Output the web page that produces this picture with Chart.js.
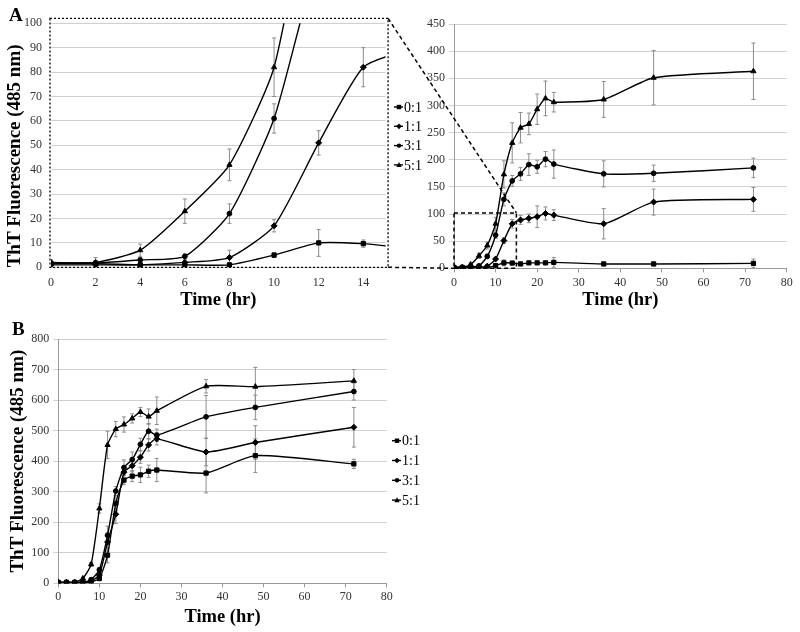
<!DOCTYPE html>
<html>
<head>
<meta charset="utf-8">
<script src="https://cdn.jsdelivr.net/npm/chart.js@4.4.1/dist/chart.umd.min.js"></script>
<style>
  body { margin: 0; background: #fff; }
  #wrap { position: relative; width: 800px; height: 632px; overflow: hidden; }
  canvas { position: absolute; }
  .tag { position: absolute; font: bold 19px 'Liberation Serif', serif; color: #000; }
</style>
</head>
<body>
<div id="wrap">
  <canvas id="zoomChart" width="430" height="320" style="left:0;top:0"></canvas>
  <canvas id="fullChart" width="800" height="320" style="left:0;top:0"></canvas>
  <canvas id="chartB" width="430" height="312" style="left:0;top:320px"></canvas>
  <div class="tag" style="left:9px;top:4px">A</div>
  <div class="tag" style="left:12px;top:318px">B</div>
</div>
<script>
const hours = [0, 2, 4, 6, 8, 10, 12, 14, 16, 18, 20, 22, 24, 36, 48, 72];
const ratios = ['0:1', '1:1', '3:1', '5:1'];
const markers = ['rect', 'rectRot', 'circle', 'triangle'];

// panel A values
const a01 = [1.5, 1.5, 1, 1, 1, 5, 10, 9.7, 8, 10, 10, 10, 11, 8, 8, 9];
const a11 = [1, 1, 1, 2, 4, 17, 51, 82, 89, 92, 95, 101, 98, 82, 122, 127];
const a31 = [1.8, 1.8, 3, 4.5, 22, 61, 127, 161, 174, 191, 187, 201, 192, 174, 175, 185];
const a51 = [2, 2, 7, 23, 42, 82, 173, 231, 259, 266, 293, 313, 306, 311, 351, 363];
const a01Err = [1, 1, 0.5, 0.5, 0.5, 1, 5.5, 1.5, 2, 2, 2, 2, 9, 3, 3, 8];
const a11Err = [0.5, 1, 1, 1, 3, 2.5, 5, 8, 8, 8, 20, 12, 10, 28, 24, 22];
const a31Err = [1, 1, 1, 1, 4, 6, 12, 10, 12, 20, 12, 14, 26, 24, 15, 18];
const a51Err = [1, 2, 2.5, 5, 6.5, 12, 25, 37, 28, 20, 28, 32, 18, 33, 50, 52];

// panel B values
const b01 = [3, 3, 3, 3, 5, 16, 92, 262, 338, 351, 355, 367, 371, 361, 418, 391];
const b11 = [3, 3, 3, 3, 8, 27, 135, 226, 364, 385, 413, 453, 473, 430, 461, 511];
const b31 = [3, 3, 3, 3, 12, 44, 157, 302, 379, 405, 455, 498, 485, 545, 576, 628];
const b51 = [3, 3, 3, 16, 62, 245, 453, 505, 520, 540, 561, 546, 565, 645, 644, 663];
const b01Err = [2, 2, 2, 2, 4, 8, 25, 25, 15, 18, 25, 20, 38, 65, 55, 15];
const b11Err = [2, 2, 2, 2, 4, 8, 30, 30, 20, 20, 20, 20, 20, 45, 55, 65];
const b31Err = [2, 2, 2, 2, 4, 8, 30, 15, 25, 25, 20, 25, 20, 70, 40, 28];
const b51Err = [2, 2, 2, 4, 6, 15, 45, 25, 25, 15, 15, 25, 45, 22, 63, 37];

// ticks
const zoomXTicks = [0, 2, 4, 6, 8, 10, 12, 14];
const zoomYTicks = [0, 10, 20, 30, 40, 50, 60, 70, 80, 90, 100];
const fullXTicks = [0, 10, 20, 30, 40, 50, 60, 70, 80];
const fullYTicks = [0, 50, 100, 150, 200, 250, 300, 350, 400, 450];
const bYTicks = [0, 100, 200, 300, 400, 500, 600, 700, 800];

// region of panel A that the left plot enlarges
const zoomRegion = { xMax: 15, yMax: 102 };

Chart.defaults.font.family = "'Liberation Serif', 'Times New Roman', serif";
Chart.defaults.font.size = 12;
Chart.defaults.color = '#333';

function drawMarker(ctx, style, cx, cy, r) {
    ctx.beginPath();
    if (style === 'rect') {
        ctx.rect(cx - r, cy - r, 2 * r, 2 * r);
    } else if (style === 'rectRot') {
        ctx.moveTo(cx, cy - r * 1.3);
        ctx.lineTo(cx + r * 1.3, cy);
        ctx.lineTo(cx, cy + r * 1.3);
        ctx.lineTo(cx - r * 1.3, cy);
        ctx.closePath();
    } else if (style === 'circle') {
        ctx.arc(cx, cy, r, 0, Math.PI * 2);
    } else {
        ctx.moveTo(cx, cy - r * 1.3);
        ctx.lineTo(cx + r * 1.2, cy + r);
        ctx.lineTo(cx - r * 1.2, cy + r);
        ctx.closePath();
    }
    ctx.fill();
}

const errorBars = {
    id: 'errorBars',
    beforeDatasetsDraw(chart) {
        const { ctx, chartArea, scales: { x, y } } = chart;
        ctx.save();
        ctx.beginPath();
        ctx.rect(chartArea.left, chartArea.top, chartArea.width, chartArea.height);
        ctx.clip();
        ctx.strokeStyle = '#8c8c8c';
        ctx.lineWidth = 1;
        chart.data.datasets.forEach(ds => {
            ds.data.forEach((pt, j) => {
                const e = ds.errors[j];
                const px = x.getPixelForValue(pt.x);
                const top = y.getPixelForValue(pt.y + e);
                const bot = y.getPixelForValue(pt.y - e);
                ctx.beginPath();
                ctx.moveTo(px, top); ctx.lineTo(px, bot);
                ctx.moveTo(px - 2, top); ctx.lineTo(px + 2, top);
                ctx.moveTo(px - 2, bot); ctx.lineTo(px + 2, bot);
                ctx.stroke();
            });
        });
        ctx.restore();
    }
};

const sideLegend = {
    id: 'sideLegend',
    afterDraw(chart, args, opts) {
        if (opts.x === undefined) return;
        const ctx = chart.ctx;
        ctx.save();
        ctx.font = "14px 'Liberation Serif', serif";
        ctx.textBaseline = 'middle';
        chart.data.datasets.forEach((ds, i) => {
            const y = opts.y + i * opts.gap;
            ctx.strokeStyle = '#000';
            ctx.fillStyle = '#000';
            ctx.lineWidth = 1.4;
            ctx.beginPath();
            ctx.moveTo(opts.x, y);
            ctx.lineTo(opts.x + 9, y);
            ctx.stroke();
            drawMarker(ctx, ds.pointStyle, opts.x + 5, y, 2.2);
            ctx.fillText(ds.label, opts.x + 10, y + 1);
        });
        ctx.restore();
    }
};

const zoomFrame = {
    id: 'zoomFrame',
    afterDraw(chart) {
        const { ctx, chartArea, scales: { y } } = chart;
        const top = y.getPixelForValue(zoomRegion.yMax);
        ctx.save();
        ctx.strokeStyle = '#000';
        ctx.lineWidth = 1.3;
        ctx.setLineDash([2, 2]);
        ctx.strokeRect(chartArea.left - 1, top, chartArea.width + 3.5, chartArea.bottom - top);
        ctx.restore();
    }
};

function makeSets(series, errs) {
    return series.map((values, i) => ({
        label: ratios[i],
        data: values.map((v, j) => ({ x: hours[j], y: v })),
        errors: errs[i],
        borderColor: '#000',
        backgroundColor: '#000',
        borderWidth: 1.4,
        pointStyle: markers[i],
        pointRadius: [3, 3, 2.4, 3][i],
        pointBorderWidth: 1,
        tension: 0.2
    }));
}

function fixedTicks(list) {
    return s => { s.ticks = list.map(v => ({ value: v })); };
}

const xTitleFont = { size: 18.5, weight: 'bold' };
const yTitleFont = { size: 19, weight: 'bold' };

const setsA = makeSets([a01, a11, a31, a51], [a01Err, a11Err, a31Err, a51Err]);
const setsB = makeSets([b01, b11, b31, b51], [b01Err, b11Err, b31Err, b51Err]);

const zoomChart = new Chart(document.getElementById('zoomChart'), {
    type: 'line',
    data: { datasets: setsA },
    plugins: [errorBars, zoomFrame, sideLegend],
    options: {
        responsive: false,
        animation: false,
        layout: { padding: { left: 0, top: 23.3, right: 44.4, bottom: 0 } },
        plugins: {
            legend: { display: false },
            tooltip: { enabled: false },
            sideLegend: { x: 394, y: 107, gap: 19.3 }
        },
        scales: {
            x: {
                type: 'linear', min: 0, max: zoomRegion.xMax,
                afterBuildTicks: fixedTicks(zoomXTicks),
                afterFit: s => { s.height = 52.7; },
                grid: { display: false },
                border: { display: false },
                ticks: { padding: 0.5, maxRotation: 0 },
                title: { display: true, text: 'Time (hr)', color: '#000', font: xTitleFont, padding: { top: 0, bottom: 9 } }
            },
            y: {
                min: 0, max: 100,
                afterBuildTicks: fixedTicks(zoomYTicks),
                afterFit: s => { s.width = 51; },
                grid: { color: '#d0d0d0', drawTicks: false },
                border: { display: false },
                ticks: { padding: 9 },
                title: { display: true, align: 'start', text: 'ThT Fluorescence (485 nm)', color: '#000', font: yTitleFont, padding: { top: 4, bottom: 0 } }
            }
        }
    }
});

const zoomLinks = {
    id: 'zoomLinks',
    afterDraw(chart) {
        const { ctx, scales: { x, y } } = chart;
        const za = zoomChart.chartArea;
        const zTop = zoomChart.scales.y.getPixelForValue(zoomRegion.yMax);
        const x0 = x.getPixelForValue(0);
        const x1 = x.getPixelForValue(zoomRegion.xMax);
        const y0 = y.getPixelForValue(0);
        const y1 = y.getPixelForValue(zoomRegion.yMax);
        ctx.save();
        ctx.strokeStyle = '#000';
        ctx.lineWidth = 1.5;
        ctx.setLineDash([4, 3]);
        ctx.strokeRect(x0, y1, x1 - x0, y0 - y1);
        ctx.beginPath();
        ctx.moveTo(za.right + 2.5, zTop);
        ctx.lineTo(x1, y1);
        ctx.moveTo(za.right + 2.5, za.bottom);
        ctx.lineTo(x0, y0);
        ctx.stroke();
        ctx.restore();
    }
};

new Chart(document.getElementById('fullChart'), {
    type: 'line',
    data: { datasets: setsA },
    plugins: [errorBars, zoomLinks],
    options: {
        responsive: false,
        animation: false,
        layout: { padding: { left: 0, top: 24, right: 13.3, bottom: 0 } },
        plugins: { legend: { display: false }, tooltip: { enabled: false } },
        scales: {
            x: {
                type: 'linear', min: 0, max: 80,
                afterBuildTicks: fixedTicks(fullXTicks),
                afterFit: s => { s.height = 51.7; },
                grid: { drawOnChartArea: false, color: '#999', tickLength: 4 },
                border: { color: '#999' },
                ticks: { padding: 3.8, maxRotation: 0 },
                title: { display: true, text: 'Time (hr)', color: '#000', font: xTitleFont, padding: { top: 0, bottom: 9 } }
            },
            y: {
                min: 0, max: 450,
                afterBuildTicks: fixedTicks(fullYTicks),
                afterFit: s => { s.width = 454; },
                grid: { color: '#d0d0d0', tickLength: 5 },
                border: { color: '#999' },
                ticks: { padding: 4 }
            }
        }
    }
});

new Chart(document.getElementById('chartB'), {
    type: 'line',
    data: { datasets: setsB },
    plugins: [errorBars, sideLegend],
    options: {
        responsive: false,
        animation: false,
        layout: { padding: { left: 0, top: 19, right: 43.3, bottom: 0 } },
        plugins: {
            legend: { display: false },
            tooltip: { enabled: false },
            sideLegend: { x: 392, y: 120.7, gap: 19.8 }
        },
        scales: {
            x: {
                type: 'linear', min: 0, max: 80,
                afterBuildTicks: fixedTicks(fullXTicks),
                afterFit: s => { s.height = 48.7; },
                grid: { drawOnChartArea: false, color: '#999', tickLength: 4 },
                border: { color: '#999' },
                ticks: { padding: 2.8, maxRotation: 0 },
                title: { display: true, text: 'Time (hr)', color: '#000', font: xTitleFont, padding: { top: 0, bottom: 3.2 } }
            },
            y: {
                min: 0, max: 800,
                afterBuildTicks: fixedTicks(bYTicks),
                afterFit: s => { s.width = 58.3; },
                grid: { color: '#d0d0d0', tickLength: 5 },
                border: { color: '#999' },
                ticks: { padding: 4 },
                title: { display: true, text: 'ThT Fluorescence (485 nm)', color: '#000', font: yTitleFont, padding: { top: 7, bottom: 0 } }
            }
        }
    }
});
</script>
</body>
</html>
